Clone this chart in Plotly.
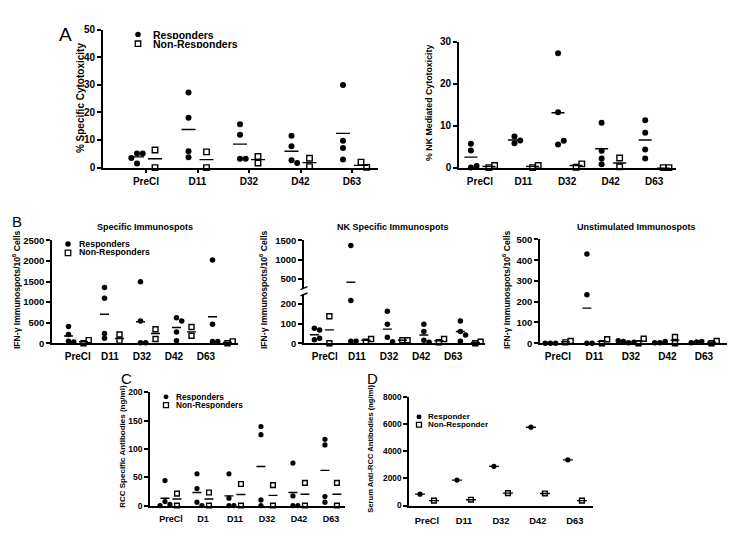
import plotly.graph_objects as go

W, H = 750, 537
FONT = "Liberation Sans, Arial, Helvetica, sans-serif"

# ------------------------------------------------------------------ data
cats5 = ["PreCl", "D11", "D32", "D42", "D63"]
cats6 = ["PreCl", "D1", "D11", "D32", "D42", "D63"]

# A (left): % Specific Cytotoxicity
a1_resp = [[5.1, 5.1, 3.5, 1.5], [27.2, 18.1, 5.9, 3.8], [15.7, 11.9, 3.2, 3.2],
           [11.5, 7.7, 2.7, 1.7], [29.9, 9.7, 7.1, 2.9]]
a1_non = [[6.4, 0.0], [5.7, 0.0], [1.7, 4.0], [3.4, 0.35], [2.0, 0.1]]
a1_resp_mean = [3.9, 13.8, 8.5, 5.9, 12.4]
a1_non_mean = [3.2, 2.9, 2.9, 1.8, 0.8]

# A (right): % NK Mediated Cytotoxicity
a2_resp = [[5.7, 4.1, 0.0, 0.4], [7.4, 5.8, 6.5], [27.3, 13.2, 5.5, 6.4],
           [10.7, 4.0, 2.2, 0.8], [11.3, 8.3, 4.3, 2.2]]
a2_non = [[0.0, 0.5], [0.0, 0.5], [0.1, 0.9], [2.3, 0.2], [0.0, 0.0]]
a2_resp_mean = [2.5, 6.6, 13.1, 4.5, 6.6]
a2_non_mean = [0.25, 0.25, 0.5, 1.1, 0.0]

# B (left): Specific Immunospots
b1_resp = [[405, 214, 48, 30], [1358, 1095, 238, 119], [1493, 538, 12, 12],
           [619, 538, 276, 62], [2025, 459, 40, 40]]
b1_non = [[0, 75], [214, 60], [340, 102], [395, 181], [0, 45]]
b1_resp_mean = [178, 705, 524, 381, 643]
b1_non_mean = [38, 115, 238, 276, 22]

# B (middle): NK Specific Immunospots (broken axis)
b2_resp = [[76, 68, 18, 26], [1365, 218, 10, 10], [163, 97, 30, 8],
           [97, 60, 15, 5], [113, 60, 42, 10]]
b2_non = [[138, 0], [8, 22], [15, 15], [5, 22], [0, 8]]
b2_resp_mean = [43, 417, 72, 42, 60]
b2_non_mean = [68, 15, 15, 13, 4]

# B (right): Unstimulated Immunospots
b3_resp = [[0, 0, 0], [430, 234, 0, 0], [8, 3, 12, 5], [3, 8, 3], [6, 8, 3]]
b3_non = [[4, 11], [0, 19], [0, 22], [0, 30], [0, 11]]
b3_resp_mean = [0, 169, 7, 5, 6]
b3_non_mean = [7, 9, 11, 15, 5]

# C: RCC Specific Antibodies (ng/ml)
c_resp = [[44, 7, 2, 0], [56, 30, 6, 0], [56, 13, 0, 0], [139.5, 125, 10, 0],
          [75, 17, 0, 0], [117, 107, 16, 6]]
c_non = [[21, 0], [23, 0], [38, 0], [36, 0], [40, 0], [40, 0]]
c_resp_mean = [13, 23, 17, 69, 23, 62]
c_non_mean = [11.5, 11.5, 19.6, 18, 20, 20]

# D: Serum Anti-RCC Antibodies (ng/ml)
d_resp = [[841], [1874], [2883], [5766], [3363]]
d_non = [[360], [432], [913], [889], [360]]
d_resp_mean = [841, 1874, 2883, 5766, 3363]
d_non_mean = [360, 432, 913, 889, 360]

# ------------------------------------------------------------------ helpers
fig = go.Figure()
layout = {}
shapes = []
annotations = []


def xp(p):
    return p / W


def yp(p):
    return 1 - p / H


def axis_names(k):
    return ("xaxis" if k == 1 else f"xaxis{k}", "yaxis" if k == 1 else f"yaxis{k}",
            "x" if k == 1 else f"x{k}", "y" if k == 1 else f"y{k}")


def tf(size):
    return dict(family=FONT, size=size, color="black", weight="bold")


def make_axes(k, xpx, ypx, xr, yr, ytv, xtv, xtt, ytfs, xtfs, show_xticks=False, xtl=4):
    xa, ya, xn, yn = axis_names(k)
    layout[xa] = dict(domain=[xp(xpx[0]), xp(xpx[1])], range=xr, anchor=yn,
                      showgrid=False, zeroline=False, showline=True, linecolor="black",
                      linewidth=1.6, ticks="outside", ticklen=xtl, tickwidth=1.5,
                      tickcolor="black" if show_xticks else "rgba(0,0,0,0)",
                      tickmode="array", tickvals=xtv, ticktext=xtt,
                      tickfont=tf(xtfs), fixedrange=True)
    layout[ya] = dict(domain=[yp(ypx[1]), yp(ypx[0])], range=yr, anchor=xn,
                      showgrid=False, zeroline=False, showline=True, linecolor="black",
                      linewidth=1.6, ticks="outside", ticklen=4, tickwidth=1.5,
                      tickcolor="black", tickmode="array", tickvals=ytv,
                      tickfont=tf(ytfs), fixedrange=True)


def swarm(values, ypix, diam):
    placed, offs = [], []
    for v in values:
        y = ypix(v)
        dx = 0.0
        for kk in [0, 1, -1, 2, -2, 3, -3]:
            dx = kk * diam * 0.95
            if all((dx - px) ** 2 + (y - py) ** 2 >= (diam * 0.9) ** 2 for px, py in placed):
                break
        placed.append((dx, y))
        offs.append(dx)
    return offs


def plot_groups(xn, resp, non, rmean, nmean, s_px, dpx, mw_px, ypix, yaxis_for, diam):
    store = {}
    for i in range(len(resp)):
        for vals, mean, sign, kind in ((resp[i], rmean[i], -1, "r"), (non[i], nmean[i], 1, "n")):
            cx = i + sign * dpx / s_px
            offs = swarm(vals, ypix, diam)
            for v, o in zip(vals, offs):
                d = store.setdefault((yaxis_for(v), kind), [[], []])
                d[0].append(cx + o / s_px)
                d[1].append(v)
            d = store.setdefault((yaxis_for(mean), "m"), [[], []])
            d[0].extend([cx - mw_px / 2 / s_px, cx + mw_px / 2 / s_px, None])
            d[1].extend([mean, mean, None])
    for (yn, kind), (x, y) in store.items():
        if kind == "m":
            continue
        if kind == "r":
            mk = dict(symbol="circle", size=diam, color="black", line=dict(width=0))
        else:
            mk = dict(symbol="square", size=diam - 0.5, color="white",
                      line=dict(width=1.4, color="black"))
        fig.add_trace(go.Scatter(x=x, y=y, xaxis=xn, yaxis=yn, mode="markers", marker=mk,
                                 cliponaxis=False, hoverinfo="skip", showlegend=False))
    for (yn, kind), (x, y) in store.items():
        if kind != "m":
            continue
        fig.add_trace(go.Scatter(x=x, y=y, xaxis=xn, yaxis=yn, mode="lines",
                                 line=dict(color="black", width=1.4), cliponaxis=False,
                                 hoverinfo="skip", showlegend=False))


def legend(xm, y1, y2, xt, size, labels, ms):
    r = ms / 2
    gap = y2 - y1
    shapes.append(dict(type="circle", xref="paper", yref="paper",
                       x0=xp(xm - r), x1=xp(xm + r), y0=yp(y1 + r), y1=yp(y1 - r),
                       fillcolor="black", line=dict(width=0)))
    shapes.append(dict(type="rect", xref="paper", yref="paper",
                       x0=xp(xm - r), x1=xp(xm + r), y0=yp(y2 + r), y1=yp(y2 - r),
                       fillcolor="white", line=dict(width=1.3, color="black")))
    for yy, lab in ((y1, labels[0]), (y2, labels[1])):
        annotations.append(dict(x=xp(xt), y=yp(yy), xref="paper", yref="paper", text=lab,
                                showarrow=False, xanchor="left", yanchor="middle",
                                height=gap - 0.5, borderpad=0, font=tf(size)))


def ytitle(text, x, y, size):
    annotations.append(dict(x=xp(x), y=yp(y), xref="paper", yref="paper", text=text,
                            textangle=-90, showarrow=False, xanchor="center",
                            yanchor="middle", font=tf(size)))


def text(t, x, y, size, bold=True):
    f = tf(size) if bold else dict(family=FONT, size=size, color="black")
    annotations.append(dict(x=xp(x), y=yp(y), xref="paper", yref="paper", text=t,
                            showarrow=False, xanchor="center", yanchor="middle", font=f))


def lin(y0px, y1px, vmax):
    return lambda v: y1px - (y1px - y0px) * v / vmax


# ------------------------------------------------------------------ Panel A left
s = 51.5
make_axes(1, (103, 378), (24, 165), [-0.835, 4.505], [0, 50], [0, 10, 20, 30, 40, 50],
          list(range(5)), cats5, 10, 10, show_xticks=True)
plot_groups("x", a1_resp, a1_non, a1_resp_mean, a1_non_mean, s, 9, 14,
            lin(24, 165, 50), lambda v: "y", 6)
legend(138, 29, 38.5, 152, 10.5, ["Responders", "Non-Responders"], 5.5)
ytitle("% Specific Cytotoxicity", 80, 94, 10)
text("A", 65, 29, 19, bold=False)

# ------------------------------------------------------------------ Panel A right
s = 43.5
make_axes(2, (459, 676), (36.7, 165), [-0.48, 4.5], [0, 30], [0, 10, 20, 30],
          list(range(5)), cats5, 10, 10)
plot_groups("x2", a2_resp, a2_non, a2_resp_mean, a2_non_mean, s, 9, 13,
            lin(36.7, 165, 30), lambda v: "y2", 6)
ytitle("% NK Mediated Cytotoxicity", 429, 99, 8.8)

# ------------------------------------------------------------------ Panel B left
s = 36
make_axes(3, (52, 238), (239.3, 344.3), [-0.667, 4.5], [0, 2500],
          [0, 500, 1000, 1500, 2000, 2500], [0.05 + 0.89 * i for i in range(5)], cats5,
          9.5, 10, xtl=3)
plot_groups("x3", b1_resp, b1_non, b1_resp_mean, b1_non_mean, s, 7.5, 9,
            lin(239.3, 344.3, 2500), lambda v: "y3", 5.5)
legend(68, 243, 252, 78, 8.8, ["Responders", "Non-Responders"], 5.5)
ytitle("IFN-γ Immunospots/10<sup>6</sup> Cells", 16, 290, 8.6)
text("Specific Immunospots", 145, 226, 9)
text("B", 17, 220, 15, bold=False)

# ------------------------------------------------------------------ Panel B middle (broken axis)
s = 36.5
make_axes(4, (304, 485), (294.3, 344.3), [-0.49, 4.47], [0, 250], [0, 100, 200],
          [0.08 + 0.88 * i for i in range(5)], cats5, 9.5, 10, xtl=3)
layout["yaxis8"] = dict(domain=[yp(288.0), yp(239.3)], range=[265, 1500], anchor="x4",
                        showgrid=False, zeroline=False, showline=True, linecolor="black",
                        linewidth=1.6, ticks="outside", ticklen=4, tickwidth=1.5,
                        tickcolor="black", tickmode="array", tickvals=[500, 1000, 1500],
                        tickfont=tf(9.5), fixedrange=True)


def b2_pix(v):
    return 344.3 - v * 0.2 if v <= 260 else 278.3 - (v - 500) * 0.0394


plot_groups("x4", b2_resp, b2_non, b2_resp_mean, b2_non_mean, s, 7.5, 9,
            b2_pix, lambda v: "y4" if v <= 260 else "y8", 5.5)
for yb in (288.0, 294.5):
    shapes.append(dict(type="line", xref="paper", yref="paper", x0=xp(300.5), x1=xp(307.5),
                       y0=yp(yb + 1.5), y1=yp(yb - 1.5), line=dict(color="black", width=1.4)))
ytitle("IFN-γ Immunospots/10<sup>6</sup> Cells", 263, 290, 8.6)
text("NK Specific Immunospots", 393, 226, 9)

# ------------------------------------------------------------------ Panel B right
s = 36.5
make_axes(5, (540, 727), (238.3, 344.3), [-0.49, 4.63], [0, 500],
          [0, 100, 200, 300, 400, 500], list(range(5)), cats5, 9.5, 10, xtl=3)
plot_groups("x5", b3_resp, b3_non, b3_resp_mean, b3_non_mean, s, 7.5, 9,
            lin(238.3, 344.3, 500), lambda v: "y5", 5.5)
ytitle("IFN-γ Immunospots/10<sup>6</sup> Cells", 506, 290, 8.6)
text("Unstimulated Immunospots", 636, 226, 9)

# ------------------------------------------------------------------ Panel C
s = 32
make_axes(6, (150, 345), (394.3, 510), [-0.656, 5.44], [0, 200], [0, 50, 100, 150, 200],
          list(range(6)), cats6, 8.6, 9, xtl=4)
plot_groups("x6", c_resp, c_non, c_resp_mean, c_non_mean, s, 6, 9,
            lin(394.3, 510, 200), lambda v: "y6", 5.2)
legend(166, 399, 407.5, 175, 8.3, ["Responders", "Non-Responders"], 5)
ytitle("RCC Specific Antibodies (ng/ml)", 123, 450, 8)
text("C", 126, 380, 15, bold=False)

# ------------------------------------------------------------------ Panel D
s = 37
make_axes(7, (409, 593), (399, 510), [-0.486, 4.49], [0, 8000], [0, 2000, 4000, 6000, 8000],
          list(range(5)), cats5, 8.3, 9.3, xtl=5)
plot_groups("x7", d_resp, d_non, d_resp_mean, d_non_mean, s, 7, 10,
            lin(399, 510, 8000), lambda v: "y7", 5.2)
legend(419, 419.5, 427.5, 427, 8, ["Responder", "Non-Responder"], 5)
ytitle("Serum Anti-RCC Antibodies (ng/ml)", 371, 452, 7.6)
text("D", 372, 380, 15, bold=False)

fig.update_layout(width=W, height=H, margin=dict(l=0, r=0, t=0, b=0),
                  paper_bgcolor="white", plot_bgcolor="white", showlegend=False,
                  shapes=shapes, annotations=annotations, **layout)
fig.write_html("out.html", config={"displayModeBar": False},
               post_script="document.body.style.margin='0';"
                           "document.body.style.overflow='hidden';")
